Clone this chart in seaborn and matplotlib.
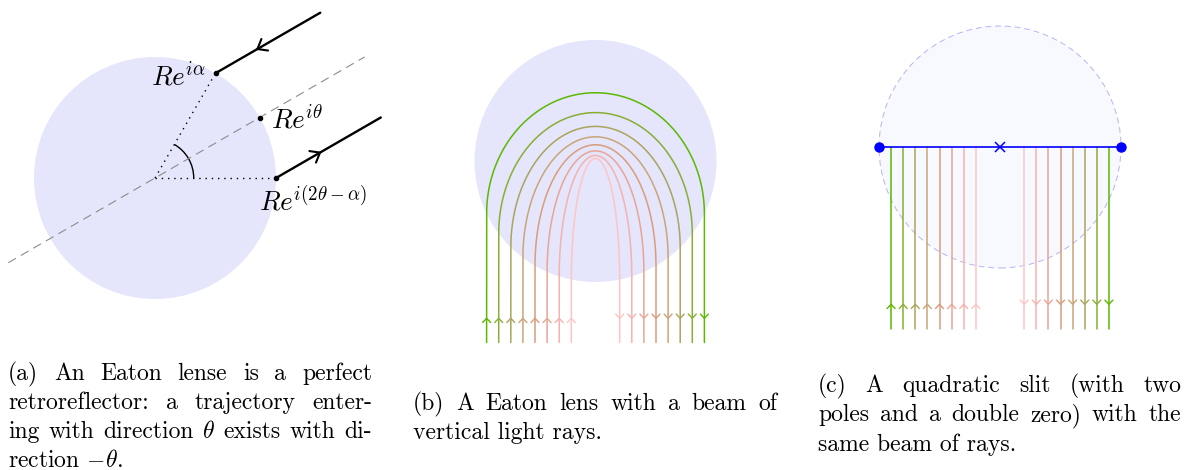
import numpy as np
import matplotlib
matplotlib.use("Agg")
import matplotlib.pyplot as plt
from matplotlib.patches import Circle, Arc
import seaborn as sns

# Figure geometry (pixels)
W, H = 1184, 470
SCALE = 121  # pixels per lens radius

# Panel (a): retroreflection angles
ALPHA_DEG = 60
THETA_DEG = 30
RAY_LEN = 1.0
AXIS_SPAN = (-1.4, 2.0)
ANGLE_ARC_R = 0.32

# Panels (b), (c): beam of vertical rays (impact parameters, outer -> inner)
IMPACT = [0.9, 0.8, 0.7, 0.6, 0.5, 0.4, 0.3, 0.2]
RAY_COLORS = ['#5cb800', '#88ae34', '#a9a55c', '#c8a676', '#d99c7c',
              '#e9a594', '#f5b2ae', '#ffc4c4']
BEAM_BOTTOM = -1.5
ARROW_Y = -1.3

CAPTION_A = ["(a) An Eaton lense is a perfect",
             "retroreflector: a trajectory enter-",
             r"ing with direction $\theta$ exists with di-",
             r"rection $-\theta$."]
CAPTION_B = ["(b) A Eaton lens with a beam of",
             "vertical light rays."]
CAPTION_C = ["(c) A quadratic slit (with two",
             "poles and a double zero) with the",
             "same beam of rays."]

LENS_FILL = '#e5e5fc'
SLIT_FILL = '#f8f8ff'
CAP_SIZE = 17
LABEL_SIZE = 19.5


def panel(fig, box, centre):
    x0, y0, x1, y1 = box
    cx, cy = centre
    ax = fig.add_axes([x0 / W, 1 - y1 / H, (x1 - x0) / W, (y1 - y0) / H])
    ax.set_xlim((x0 - cx) / SCALE, (x1 - cx) / SCALE)
    ax.set_ylim((cy - y1) / SCALE, (cy - y0) / SCALE)
    ax.set_axis_off()
    return ax


def chevron(ax, tip, direction, color, length, half, lw):
    d = np.asarray(direction, float)
    d = d / np.linalg.norm(d)
    n = np.array([-d[1], d[0]])
    tip = np.asarray(tip, float)
    back = tip - length * d
    pts = np.array([back + half * n, tip, back - half * n])
    ax.plot(pts[:, 0], pts[:, 1], color=color, lw=lw,
            solid_capstyle='round', solid_joinstyle='round')


def eaton_path(b):
    # ray inside an Eaton lens: Kepler ellipse, focus at centre, a = R
    e = np.sqrt(1 - b ** 2)
    phi = np.linspace(np.pi + np.arcsin(e), -np.arcsin(e), 300)
    r = b ** 2 / (1 + e * np.sin(phi))
    x = np.concatenate([[-b], r * np.cos(phi), [b]])
    y = np.concatenate([[BEAM_BOTTOM], r * np.sin(phi), [BEAM_BOTTOM]])
    return x, y


def caption(fig, lines, x0, width, baselines, size):
    rend = fig.canvas.get_renderer()
    for i, (line, yb) in enumerate(zip(lines, baselines)):
        y = 1 - yb / H
        if i == len(lines) - 1:
            fig.text(x0 / W, y, line, fontsize=size, va='baseline', ha='left')
            continue
        words = line.split(' ')
        texts = [fig.text(0, y, w, fontsize=size, va='baseline') for w in words]
        widths = [t.get_window_extent(rend).width for t in texts]
        gap = (width - sum(widths)) / (len(words) - 1)
        x = x0
        for t, w in zip(texts, widths):
            t.set_x(x / W)
            x += w + gap


sns.set_theme(style='white')
plt.rcParams['font.family'] = ['cmr10']
plt.rcParams['mathtext.fontset'] = 'cm'
plt.rcParams['axes.formatter.use_mathtext'] = True
plt.rcParams['text.color'] = 'black'

fig = plt.figure(figsize=(W / 100, H / 100), dpi=100)
fig.patch.set_facecolor('white')

# ---------------- (a) ----------------
ax = panel(fig, (0, 0, 400, 345), (155, 178))
ax.add_patch(Circle((0, 0), 1, facecolor=LENS_FILL, edgecolor='none', zorder=0))
a = np.radians(ALPHA_DEG)
t = np.radians(THETA_DEG)
u = np.array([np.cos(t), np.sin(t)])
p_alpha = np.array([np.cos(a), np.sin(a)])
p_theta = u.copy()
p_out = np.array([np.cos(2 * t - a), np.sin(2 * t - a)])

s = np.array(AXIS_SPAN)
ax.plot(s * u[0], s * u[1], color='#8c8c8c', lw=0.8, dashes=(8, 5))
ax.plot([0, p_alpha[0]], [0, p_alpha[1]], color='black', lw=1.0, ls=(0, (1, 3.5)))
ax.plot([0, p_out[0]], [0, p_out[1]], color='black', lw=1.0, ls=(0, (1, 3.5)))
ax.add_patch(Arc((0, 0), 2 * ANGLE_ARC_R, 2 * ANGLE_ARC_R, theta1=0, theta2=ALPHA_DEG,
                 color='black', lw=1.0))
for p in (p_alpha, p_out):
    q = p + RAY_LEN * u
    sns.lineplot(x=[p[0], q[0]], y=[p[1], q[1]], sort=False, estimator=None,
                 color='black', lw=1.7, ax=ax)
chevron(ax, p_alpha + 0.40 * u, -u, 'black', 0.07, 0.055, 1.5)
chevron(ax, p_out + 0.42 * u, u, 'black', 0.07, 0.055, 1.5)
for p in (p_alpha, p_theta, p_out):
    ax.plot(p[0], p[1], 'o', color='black', ms=3)
ax.text(0.42, 0.77, r'$Re^{i\alpha}$', fontsize=LABEL_SIZE, ha='right', va='baseline')
ax.text(0.955, 0.41, r'$Re^{i\theta}$', fontsize=LABEL_SIZE, ha='left', va='baseline')
ax.text(0.86, -0.27, r'$Re^{i(2\theta-\alpha)}$', fontsize=LABEL_SIZE, ha='left', va='baseline')

# ---------------- (b) ----------------
ax = panel(fig, (420, 0, 790, 355), (595.5, 161))
ax.add_patch(Circle((0, 0), 1, facecolor=LENS_FILL, edgecolor='none', zorder=0))
for b, c in zip(IMPACT, RAY_COLORS):
    x, y = eaton_path(b)
    sns.lineplot(x=x, y=y, sort=False, estimator=None, color=c, lw=1.1, ax=ax)
    chevron(ax, (-b, ARROW_Y), (0, 1), c, 0.035, 0.033, 1.0)
    chevron(ax, (b, ARROW_Y), (0, -1), c, 0.035, 0.033, 1.0)

# ---------------- (c) ----------------
ax = panel(fig, (810, 0, 1184, 345), (1000, 147))
ax.add_patch(Circle((0, 0), 1, facecolor=SLIT_FILL, edgecolor='#b4b4f4', lw=0.7,
                    ls=(0, (6, 4)), zorder=0))
for b, c in zip(IMPACT, RAY_COLORS):
    for sgn in (-1, 1):
        sns.lineplot(x=[sgn * b, sgn * b], y=[BEAM_BOTTOM, 0], sort=False,
                     estimator=None, color=c, lw=1.1, ax=ax)
    chevron(ax, (-b, ARROW_Y), (0, 1), c, 0.035, 0.033, 1.0)
    chevron(ax, (b, ARROW_Y), (0, -1), c, 0.035, 0.033, 1.0)
ax.plot([-1, 1], [0, 0], color='#0000ff', lw=1.2, zorder=3)
ax.plot([-1, 1], [0, 0], 'o', color='#0000ff', ms=6.5, zorder=4)
ax.plot([0], [0], 'x', color='#0000ff', ms=7, mew=1.1, zorder=4)

# ---------------- captions ----------------
caption(fig, CAPTION_A, 8, 364, [380, 409, 438, 467], CAP_SIZE)
caption(fig, CAPTION_B, 413, 364, [410, 439], CAP_SIZE)
caption(fig, CAPTION_C, 818, 363, [392, 421, 451], CAP_SIZE)

fig.savefig('out.png', dpi=100, facecolor='white')
